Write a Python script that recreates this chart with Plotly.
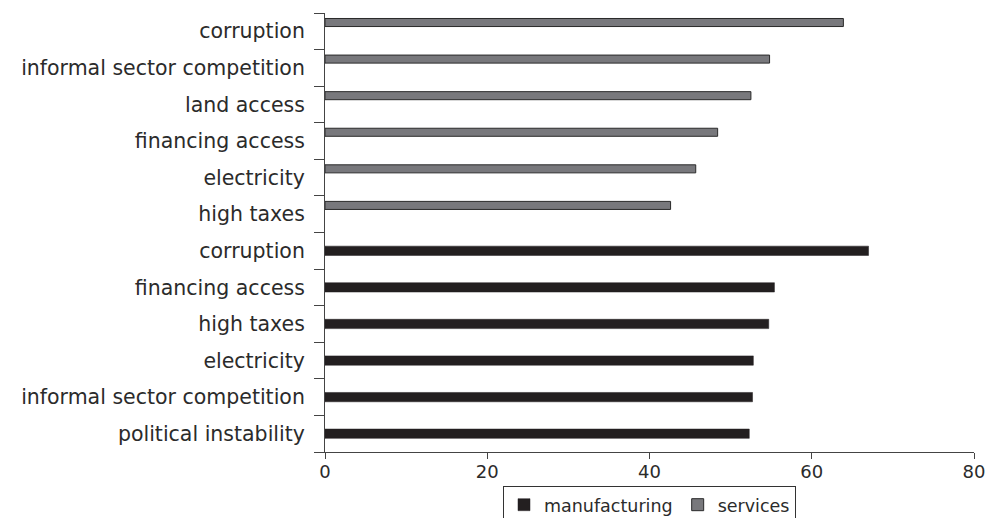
import plotly.graph_objects as go

# ---- data (top to bottom) ----
services_labels = ["corruption", "informal sector competition", "land access",
                   "financing access", "electricity", "high taxes"]
services_values = [63.9, 54.8, 52.5, 48.4, 45.7, 42.6]

manufacturing_labels = ["corruption", "financing access", "high taxes",
                        "electricity", "informal sector competition", "political instability"]
manufacturing_values = [67.0, 55.4, 54.7, 52.8, 52.7, 52.3]

x_ticks = [0, 20, 40, 60, 80]

tick_labels = services_labels + manufacturing_labels
n = len(tick_labels)
services_pos = list(range(len(services_labels)))
manufacturing_pos = list(range(len(services_labels), n))

FONT = "DejaVu Sans"
TXT = "#2b2b2b"

fig = go.Figure()
fig.add_trace(go.Bar(
    name="manufacturing", orientation="h",
    x=manufacturing_values, y=manufacturing_pos,
    width=0.255, offset=-0.1275,
    marker=dict(color="#231f20", line=dict(color="#231f20", width=0.5)),
))
fig.add_trace(go.Bar(
    name="services", orientation="h",
    x=services_values, y=services_pos,
    width=0.22, offset=-0.35,
    marker=dict(color="#78787c", line=dict(color="#2a2a2a", width=1)),
))

fig.update_layout(
    width=990, height=518,
    margin=dict(l=325, r=16, t=13, b=66, autoexpand=False),
    paper_bgcolor="white", plot_bgcolor="white",
    barmode="overlay",
    font=dict(family=FONT, size=19, color=TXT),
    showlegend=True,
    legend=dict(
        orientation="h", x=0.5, xanchor="center", y=-0.077, yanchor="top",
        bordercolor="#333", borderwidth=1, font=dict(size=17.5, color=TXT),
        traceorder="normal", itemwidth=30,
    ),
    xaxis=dict(
        range=[0, 80], tickvals=x_ticks, ticktext=[str(v) for v in x_ticks],
        showgrid=False, zeroline=False,
        showline=True, linecolor="#444", linewidth=1,
        ticks="outside", ticklen=6, tickcolor="#444",
        tickfont=dict(size=18, color=TXT),
        ticklabelstandoff=-3,
    ),
    yaxis=dict(
        range=[n - 0.5, -0.5],
        tickvals=list(range(n)), ticktext=tick_labels,
        showgrid=False, zeroline=False,
        showline=True, linecolor="#444", linewidth=1,
        ticks="outside", ticklen=15, tickcolor="rgba(0,0,0,0)",
        tickfont=dict(size=20.5, color=TXT),
    ),
    yaxis2=dict(
        overlaying="y", side="left", matches="y",
        range=[n - 0.5, -0.5],
        tickvals=[i - 0.5 for i in range(n + 1)],
        showticklabels=False, showgrid=False, zeroline=False,
        ticks="outside", ticklen=10, tickcolor="#444",
    ),
)
# invisible trace to activate the boundary-tick axis
fig.add_trace(go.Scatter(x=[None], y=[None], yaxis="y2", showlegend=False, hoverinfo="skip"))

fig.write_html("out.html",
               config={"displayModeBar": False},
               post_script="document.body.style.margin='0';document.body.style.overflow='hidden';")
